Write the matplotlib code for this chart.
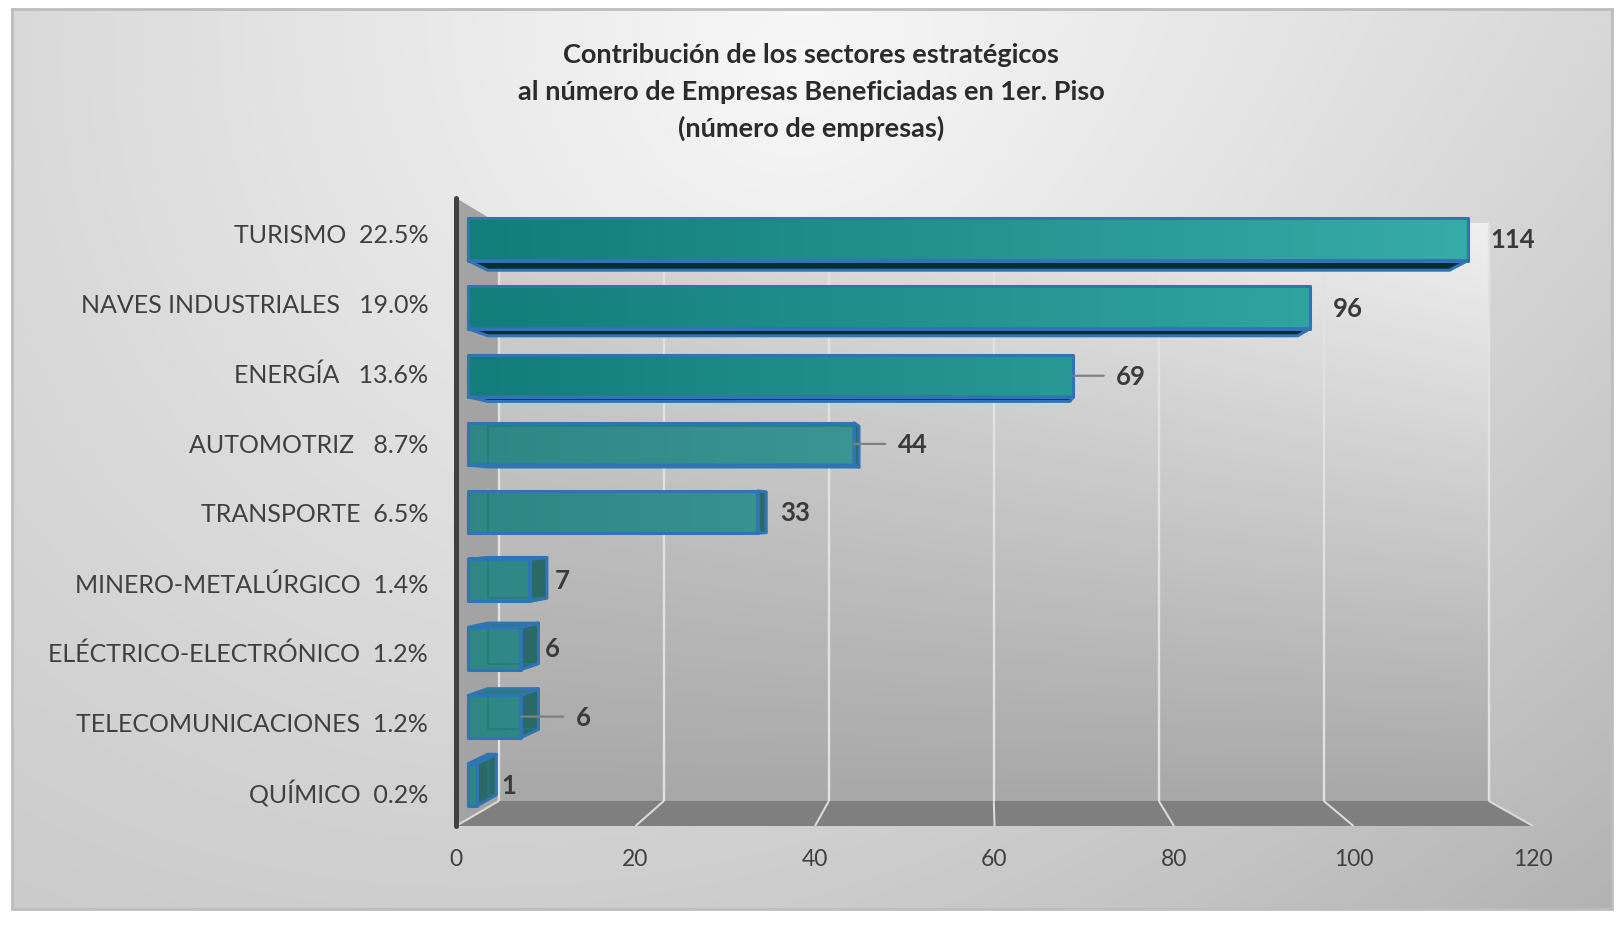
import numpy as np
import matplotlib
matplotlib.use("Agg")
import matplotlib.pyplot as plt
from matplotlib.patches import Polygon, Rectangle
from matplotlib.colors import LinearSegmentedColormap

plt.rcParams['font.family'] = ['Lato', 'DejaVu Sans']

# ---------------- data ----------------
categories = ["TURISMO", "NAVES INDUSTRIALES", "ENERGÍA", "AUTOMOTRIZ", "TRANSPORTE",
              "MINERO-METALÚRGICO", "ELÉCTRICO-ELECTRÓNICO", "TELECOMUNICACIONES", "QUÍMICO"]
shares = ["22.5%", "19.0%", "13.6%", "8.7%", "6.5%", "1.4%", "1.2%", "1.2%", "0.2%"]
separators = ["  ", "   ", "   ", "   ", "  ", "  ", "  ", "  ", "  "]
values = [114, 96, 69, 44, 33, 7, 6, 6, 1]
x_ticks = [0, 20, 40, 60, 80, 100, 120]
title_lines = ["Contribución de los sectores estratégicos",
               "al número de Empresas Beneficiadas en 1er. Piso",
               "(número de empresas)"]

# ---------------- figure ----------------
W, H = 1624, 928
fig = plt.figure(figsize=(W / 100, H / 100), dpi=100)
fig.patch.set_facecolor('white')

# chart area with gradient background
bx0, by0, bx1, by1 = 12, 10, 1612, 910
bg = fig.add_axes([bx0 / W, 1 - by1 / H, (bx1 - bx0) / W, (by1 - by0) / H])
yy, xx = np.mgrid[by0:by1:3, bx0:bx1:3].astype(float)
d = np.hypot(xx - 800, yy - 80) / 1150
c = 248 - 45 * d - 25 * (xx / W) * (yy / H)
c = np.clip(c, 0, 255) / 255
bg.imshow(np.dstack([c, c, c]), extent=[0, 1, 0, 1], aspect='auto', origin='upper',
          interpolation='bilinear')
bg.set_xticks([]); bg.set_yticks([])
for sp in bg.spines.values():
    sp.set_color('#bdbdbd'); sp.set_linewidth(2)
bg.set_zorder(-5)

# title
for k, line in enumerate(title_lines):
    fig.text(811 / W, 1 - (55 + 36.5 * k) / H, line, ha='center', va='center',
             fontsize=19.5, fontweight='bold', color='#2b2b2b')

# main axes (front plane)
L, R, T, B = 456, 1533, 199, 827
ax = fig.add_axes([L / W, 1 - B / H, (R - L) / W, (B - T) / H])
ax.patch.set_alpha(0)
n = len(categories)
ypos = [n - 1 - i for i in range(n)]
ylo, yhi = -0.5, n - 0.5

VX, VY = 59.05, 3.943
S_WALL, S_FRONT, S_BACK = 0.919, 0.977, 0.94


def P(x, y, s):
    return (VX + (x - VX) * s, VY + (y - VY) * s)


xmax = x_ticks[-1]

# back wall with gradient
wx0, wy0 = P(0, ylo, S_WALL)
wx1, wy1 = P(xmax, yhi, S_WALL)
ty, tx = np.mgrid[0:1:200j, 0:1:300j]
cw = (168 + 42 * ty + 30 * tx * ty) / 255
ax.imshow(np.dstack([cw, cw, cw]), extent=[wx0, wx1, wy0, wy1], aspect='auto',
          origin='lower', zorder=1, interpolation='bilinear')

# side wall
ax.add_patch(Polygon([P(0, ylo, 1), P(0, yhi, 1), P(0, yhi, S_WALL), P(0, ylo, S_WALL)],
                     closed=True, fc='#a3a3a3', ec='none', zorder=1.2))

# floor
ax.add_patch(Polygon([P(0, ylo, 1), P(xmax, ylo, 1), P(xmax, ylo, S_WALL), P(0, ylo, S_WALL)],
                     closed=True, fc='#7f7f7f', ec='none', zorder=1.2))

# gridlines on wall and floor
for t in x_ticks:
    (gx0, gy0), (gx1, gy1) = P(t, ylo, S_WALL), P(t, yhi, S_WALL)
    ax.plot([gx0, gx1], [gy0, gy1], color='#e2e2e2', lw=1.7, zorder=1.5,
            solid_capstyle='butt')
    (fx0, fy0), (fx1, fy1) = P(t, ylo, 1), P(t, ylo, S_WALL)
    ax.plot([fx0, fx1], [fy0, fy1], color='#dadada', lw=1.5, zorder=1.5,
            solid_capstyle='butt')

# bars
h = 0.31
edge_c = '#2f74b5'
lw_e = 2.2
cm = LinearSegmentedColormap.from_list('teal', ['#127d7a', '#38ada9'])
gray = np.array([0.70, 0.70, 0.70])

for i, v in enumerate(values):
    yc = ypos[i]
    yb, yt = yc - h, yc + h
    faces = []
    if yb > VY:
        faces.append(([P(0, yb, S_FRONT), P(v, yb, S_FRONT), P(v, yb, S_BACK), P(0, yb, S_BACK)],
                      '#052e2e'))
    if yt < VY:
        faces.append(([P(0, yt, S_FRONT), P(v, yt, S_FRONT), P(v, yt, S_BACK), P(0, yt, S_BACK)],
                      '#2a7b78'))
    if v < VX:
        faces.append(([P(v, yb, S_FRONT), P(v, yt, S_FRONT), P(v, yt, S_BACK), P(v, yb, S_BACK)],
                      '#2b6967'))
    for poly, col in faces:
        ax.add_patch(Polygon(poly, closed=True, fc=col, ec='none', zorder=4))

    fx0, fy0 = P(0, yb, S_FRONT)
    fx1, fy1 = P(v, yt, S_FRONT)
    grad = cm(np.linspace(0, v / xmax, 64))[None, :, :3]
    if i >= 3:
        grad = grad * 0.82 + 0.18 * gray
    ax.imshow(grad, extent=[fx0, fx1, fy0, fy1], aspect='auto', origin='lower',
              zorder=5, interpolation='bilinear')

    if i >= 3:
        back = [P(0, yb, S_BACK), P(v, yb, S_BACK), P(v, yt, S_BACK), P(0, yt, S_BACK)]
        ax.add_patch(Polygon(back, closed=True, fill=False, ec='#1d7e7b', lw=1.3,
                             alpha=0.8, zorder=5.2))

    for poly, _ in faces:
        ax.add_patch(Polygon(poly, closed=True, fill=False, ec=edge_c, lw=lw_e,
                             joinstyle='round', zorder=6))
    ax.add_patch(Rectangle((fx0, fy0), fx1 - fx0, fy1 - fy0, fill=False, ec=edge_c,
                           lw=lw_e, joinstyle='round', zorder=6.5))

# data labels
label_style = {0: (16.5, False), 1: (16.5, False), 2: (31, True), 3: (31.5, True),
               4: (10, False), 5: (6, False), 6: (5, False), 7: (39.5, True), 8: (4, False)}
for i, v in enumerate(values):
    yc = ypos[i]
    xf, yl = P(v, yc, S_FRONT)
    xb, _ = P(v, yc, S_BACK)
    off, leader = label_style[i]
    kw = dict(textcoords='offset points', ha='left', va='center', fontsize=18.5,
              fontweight='bold', color='#3a3a3a', zorder=8)
    if leader:
        ax.annotate(str(v), xy=(xf, yl), xytext=(off, 0),
                    arrowprops=dict(arrowstyle='-', color='#808080', lw=1.6,
                                    shrinkA=7, shrinkB=0, relpos=(0, 0.5)), **kw)
    else:
        ax.annotate(str(v), xy=(max(xf, xb), yl), xytext=(off, 0), **kw)

# axes styling
ax.set_xlim(0, xmax)
ax.set_ylim(ylo, yhi)
ax.set_xticks(x_ticks)
ax.set_xticklabels([str(t) for t in x_ticks])
ax.set_yticks(ypos)
ax.set_yticklabels([f"{cat}{sep}{sh}" for cat, sep, sh in zip(categories, separators, shares)])
ax.tick_params(axis='x', length=0, pad=16, labelsize=16.5, labelcolor='#404040')
ax.tick_params(axis='y', length=0, pad=20, labelsize=18, labelcolor='#404040')
for s in ['top', 'right', 'bottom']:
    ax.spines[s].set_visible(False)
ax.spines['left'].set_linewidth(3.6)
ax.spines['left'].set_color('#404040')
ax.spines['left'].set_capstyle('round')
ax.spines['left'].set_zorder(7)

fig.savefig('out.png', dpi=100)
